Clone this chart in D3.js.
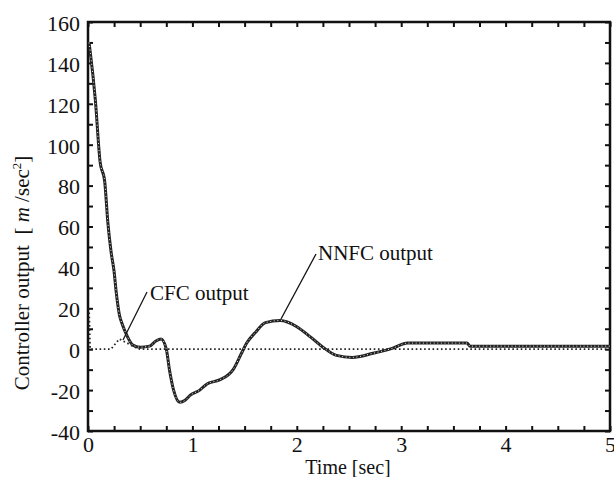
<!DOCTYPE html>
<html>
<head>
<meta charset="utf-8">
<script src="https://cdn.jsdelivr.net/npm/d3@7"></script>
<style>
  body { margin: 0; background: #fff; }
  text { font-family: "Liberation Serif", "DejaVu Serif", serif; fill: #111; }
</style>
</head>
<body>
<svg id="chart" width="614" height="477"></svg>
<script>
// values
var nnfcTime = [0.01, 0.02, 0.07, 0.115, 0.16, 0.19, 0.22, 0.25, 0.27, 0.3, 0.33, 0.37, 0.43, 0.5, 0.59, 0.65, 0.7, 0.75, 0.78, 0.82, 0.88, 0.93, 0.98, 1.07, 1.14, 1.26, 1.39, 1.47, 1.52, 1.6, 1.7, 1.84, 2.0, 2.13, 2.25, 2.38, 2.53, 2.73, 2.92, 3.06, 3.63, 3.66, 5]
var nnfcValue = [150, 146, 122, 92, 82, 62, 48, 38, 28, 17, 12, 7, 2, 1, 1.5, 4, 5, 0, -10, -20, -26, -25, -22.5, -20, -17, -15, -10, -2, 3, 8, 13, 14, 11, 6, 1, -3, -4, -2, 0.5, 3, 3, 1.5, 1.5]

var cfcTime = [0.01, 0.015, 0.02, 0.22, 0.3, 0.45, 0.5, 5]
var cfcValue = [20, 10, 0, 0, 5, 1, 0, 0]

var xTicks = [0, 1, 2, 3, 4, 5]
var yTicks = [-40, -20, 0, 20, 40, 60, 80, 100, 120, 140, 160]

var svg = d3.select("#chart")
var pLeft = 88, pRight = 610, pTop = 22, pBottom = 431
var serif = "Liberation Serif, DejaVu Serif, serif"

var x = d3.scaleLinear().domain([0, 5]).range([pLeft, pRight])
var y = d3.scaleLinear().domain([-40, 160]).range([pBottom, pTop])

var minorX = d3.range(0, 5.001, 0.25)
var minorY = d3.range(-40, 160.001, 10)

function xFmt(d) { return xTicks.indexOf(d) >= 0 ? d : "" }
function yFmt(d) { return yTicks.indexOf(d) >= 0 ? d : "" }

// bottom axis, ticks inside
var gb = svg.append("g")
  .attr("transform", "translate(0," + pBottom + ")")
  .call(d3.axisBottom(x).tickValues(minorX).tickSize(-5).tickPadding(8).tickFormat(xFmt))
gb.selectAll("text").attr("font-family", serif).style("font-size", "22px").attr("dy", "0.6em")

svg.append("g")
  .attr("transform", "translate(0," + pTop + ")")
  .call(d3.axisTop(x).tickValues(minorX).tickSize(-5).tickFormat(""))

var gl = svg.append("g")
  .attr("transform", "translate(" + pLeft + ",0)")
  .call(d3.axisLeft(y).tickValues(minorY).tickSize(-5).tickPadding(8).tickFormat(yFmt))
gl.selectAll("text").attr("font-family", serif).style("font-size", "22px").attr("dy", "0.38em")

svg.append("g")
  .attr("transform", "translate(" + pRight + ",0)")
  .call(d3.axisRight(y).tickValues(minorY).tickSize(-5).tickFormat(""))

svg.selectAll(".domain").remove()
svg.selectAll(".tick line").attr("stroke", "#111").attr("stroke-width", 2)

svg.append("rect")
  .attr("x", pLeft).attr("y", pTop)
  .attr("width", pRight - pLeft).attr("height", pBottom - pTop)
  .attr("fill", "none").attr("stroke", "#111").attr("stroke-width", 2.5)

// curves
var line = d3.line()
  .x(function(d) { return x(d[0]) })
  .y(function(d) { return y(d[1]) })
  .curve(d3.curveMonotoneX)

var cfc = cfcTime.map(function(t, i) { return [t, cfcValue[i]] })
var nnfc = nnfcTime.map(function(t, i) { return [t, nnfcValue[i]] })

svg.append("path")
  .datum(cfc)
  .attr("d", d3.line().x(function(d) { return x(d[0]) }).y(function(d) { return y(d[1]) }))
  .attr("fill", "none")
  .attr("stroke", "#222")
  .attr("stroke-width", 1.8)
  .attr("stroke-dasharray", "1.6 2.6")

svg.append("path")
  .datum(nnfc)
  .attr("d", line)
  .attr("fill", "none")
  .attr("stroke", "#222")
  .attr("stroke-width", 3)

svg.append("path")
  .datum(nnfc)
  .attr("d", line)
  .attr("fill", "none")
  .attr("stroke", "#fff")
  .attr("stroke-width", 0.9)
  .attr("stroke-dasharray", "1 2.6")

// annotations
svg.append("line")
  .attr("x1", 147).attr("y1", 292).attr("x2", 123).attr("y2", 340)
  .attr("stroke", "#111").attr("stroke-width", 1.3)
svg.append("text")
  .attr("x", 150).attr("y", 300)
  .style("font-size", "21px")
  .text("CFC output")

svg.append("line")
  .attr("x1", 316).attr("y1", 254).attr("x2", 281).attr("y2", 319)
  .attr("stroke", "#111").attr("stroke-width", 1.3)
svg.append("text")
  .attr("x", 318).attr("y", 260)
  .style("font-size", "21px")
  .text("NNFC output")

// axis titles
svg.append("text")
  .attr("x", 348).attr("y", 474)
  .attr("text-anchor", "middle")
  .style("font-size", "20px")
  .text("Time [sec]")

var yt = svg.append("text")
  .attr("transform", "translate(29,273) rotate(-90)")
  .attr("text-anchor", "middle")
  .style("font-size", "21px")
yt.append("tspan").text("Controller output\u00a0\u00a0[\u00a0")
yt.append("tspan").style("font-style", "italic").text("m")
yt.append("tspan").text("\u00a0/sec")
yt.append("tspan").attr("dy", -8).style("font-size", "13px").text("2")
yt.append("tspan").attr("dy", 8).text("]")
</script>
</body>
</html>
